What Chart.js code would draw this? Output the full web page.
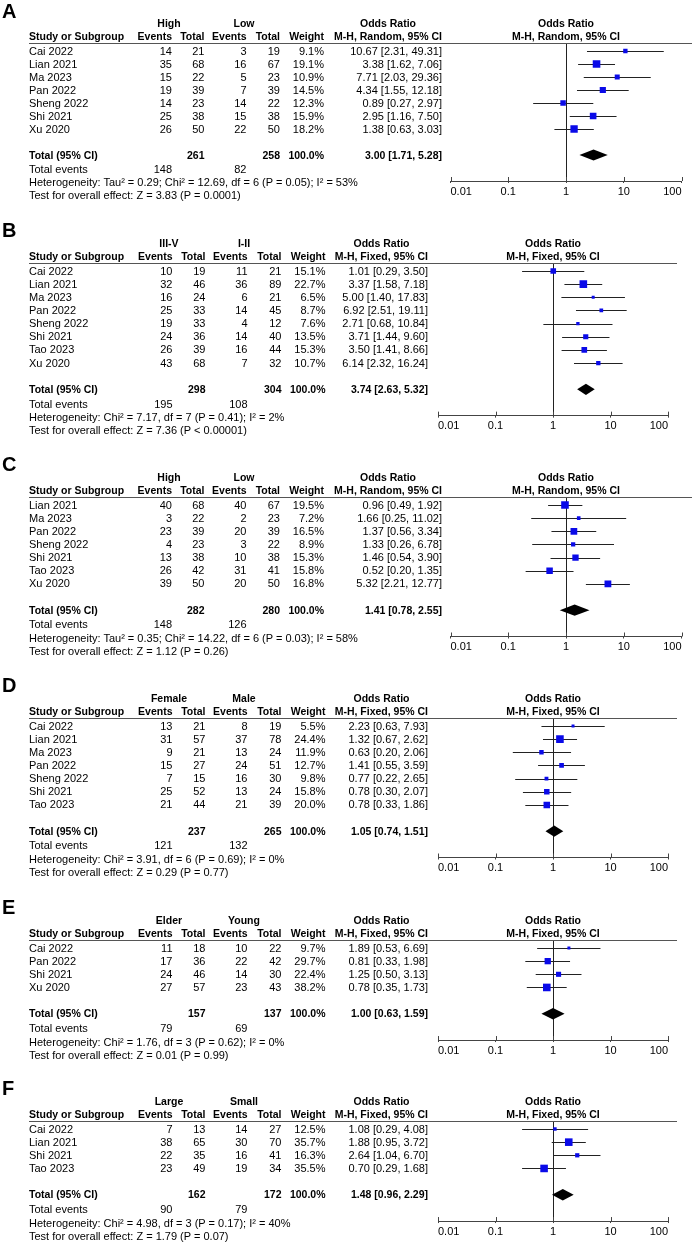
<!DOCTYPE html>
<html>
<head>
<meta charset="utf-8">
<script src="https://cdn.jsdelivr.net/npm/chart.js@4.4.1/dist/chart.umd.min.js"></script>
<style>
body { margin: 0; background: #fff; }
#page { position: relative; width: 692px; height: 1242px; overflow: hidden; font-family: "Liberation Sans", Arial, sans-serif; font-size: 11px; color: #000; }
#page canvas { position: absolute; left: 0; }
.t { position: absolute; white-space: nowrap; line-height: 13px; height: 13px; z-index: 2; }
.b { font-weight: bold; font-size: 10.5px; }
.r { transform: translateX(-100%); }
.c { transform: translateX(-50%); }
.lbl { font-size: 20px; font-weight: bold; line-height: 20px; height: 20px; }
.rule { position: absolute; height: 1px; background: #555; z-index: 2; }
</style>
</head>
<body>
<div id="page"></div>
<script>
const fontFamily = '"Liberation Sans", Arial, sans-serif'

// A: High vs Low, M-H random
const studiesA = ["Cai 2022", "Lian 2021", "Ma 2023", "Pan 2022", "Sheng 2022", "Shi 2021", "Xu 2020"]
const events1A = [14, 35, 15, 19, 14, 25, 26]
const totals1A = [21, 68, 22, 39, 23, 38, 50]
const events2A = [3, 16, 5, 7, 14, 15, 22]
const totals2A = [19, 67, 23, 39, 22, 38, 50]
const weightA = [9.1, 19.1, 10.9, 14.5, 12.3, 15.9, 18.2]
const orA = [10.67, 3.38, 7.71, 4.34, 0.89, 2.95, 1.38]
const lowA = [2.31, 1.62, 2.03, 1.55, 0.27, 1.16, 0.63]
const highA = [49.31, 7.06, 29.36, 12.18, 2.97, 7.50, 3.03]
const pooledA = [3.00, 1.71, 5.28]
const sumsA = [261, 258, 148, 82]
const hetA = "Heterogeneity: Tau² = 0.29; Chi² = 12.69, df = 6 (P = 0.05); I² = 53%"
const testA = "Test for overall effect: Z = 3.83 (P = 0.0001)"

// B: III-V vs I-II, M-H fixed
const studiesB = ["Cai 2022", "Lian 2021", "Ma 2023", "Pan 2022", "Sheng 2022", "Shi 2021", "Tao 2023", "Xu 2020"]
const events1B = [10, 32, 16, 25, 19, 24, 26, 43]
const totals1B = [19, 46, 24, 33, 33, 36, 39, 68]
const events2B = [11, 36, 6, 14, 4, 14, 16, 7]
const totals2B = [21, 89, 21, 45, 12, 40, 44, 32]
const weightB = [15.1, 22.7, 6.5, 8.7, 7.6, 13.5, 15.3, 10.7]
const orB = [1.01, 3.37, 5.00, 6.92, 2.71, 3.71, 3.50, 6.14]
const lowB = [0.29, 1.58, 1.40, 2.51, 0.68, 1.44, 1.41, 2.32]
const highB = [3.50, 7.18, 17.83, 19.11, 10.84, 9.60, 8.66, 16.24]
const pooledB = [3.74, 2.63, 5.32]
const sumsB = [298, 304, 195, 108]
const hetB = "Heterogeneity: Chi² = 7.17, df = 7 (P = 0.41); I² = 2%"
const testB = "Test for overall effect: Z = 7.36 (P < 0.00001)"

// C: High vs Low, M-H random
const studiesC = ["Lian 2021", "Ma 2023", "Pan 2022", "Sheng 2022", "Shi 2021", "Tao 2023", "Xu 2020"]
const events1C = [40, 3, 23, 4, 13, 26, 39]
const totals1C = [68, 22, 39, 23, 38, 42, 50]
const events2C = [40, 2, 20, 3, 10, 31, 20]
const totals2C = [67, 23, 39, 22, 38, 41, 50]
const weightC = [19.5, 7.2, 16.5, 8.9, 15.3, 15.8, 16.8]
const orC = [0.96, 1.66, 1.37, 1.33, 1.46, 0.52, 5.32]
const lowC = [0.49, 0.25, 0.56, 0.26, 0.54, 0.20, 2.21]
const highC = [1.92, 11.02, 3.34, 6.78, 3.90, 1.35, 12.77]
const pooledC = [1.41, 0.78, 2.55]
const sumsC = [282, 280, 148, 126]
const hetC = "Heterogeneity: Tau² = 0.35; Chi² = 14.22, df = 6 (P = 0.03); I² = 58%"
const testC = "Test for overall effect: Z = 1.12 (P = 0.26)"

// D: Female vs Male, M-H fixed
const studiesD = ["Cai 2022", "Lian 2021", "Ma 2023", "Pan 2022", "Sheng 2022", "Shi 2021", "Tao 2023"]
const events1D = [13, 31, 9, 15, 7, 25, 21]
const totals1D = [21, 57, 21, 27, 15, 52, 44]
const events2D = [8, 37, 13, 24, 16, 13, 21]
const totals2D = [19, 78, 24, 51, 30, 24, 39]
const weightD = [5.5, 24.4, 11.9, 12.7, 9.8, 15.8, 20.0]
const orD = [2.23, 1.32, 0.63, 1.41, 0.77, 0.78, 0.78]
const lowD = [0.63, 0.67, 0.20, 0.55, 0.22, 0.30, 0.33]
const highD = [7.93, 2.62, 2.06, 3.59, 2.65, 2.07, 1.86]
const pooledD = [1.05, 0.74, 1.51]
const sumsD = [237, 265, 121, 132]
const hetD = "Heterogeneity: Chi² = 3.91, df = 6 (P = 0.69); I² = 0%"
const testD = "Test for overall effect: Z = 0.29 (P = 0.77)"

// E: Elder vs Young, M-H fixed
const studiesE = ["Cai 2022", "Pan 2022", "Shi 2021", "Xu 2020"]
const events1E = [11, 17, 24, 27]
const totals1E = [18, 36, 46, 57]
const events2E = [10, 22, 14, 23]
const totals2E = [22, 42, 30, 43]
const weightE = [9.7, 29.7, 22.4, 38.2]
const orE = [1.89, 0.81, 1.25, 0.78]
const lowE = [0.53, 0.33, 0.50, 0.35]
const highE = [6.69, 1.98, 3.13, 1.73]
const pooledE = [1.00, 0.63, 1.59]
const sumsE = [157, 137, 79, 69]
const hetE = "Heterogeneity: Chi² = 1.76, df = 3 (P = 0.62); I² = 0%"
const testE = "Test for overall effect: Z = 0.01 (P = 0.99)"

// F: Large vs Small, M-H fixed
const studiesF = ["Cai 2022", "Lian 2021", "Shi 2021", "Tao 2023"]
const events1F = [7, 38, 22, 23]
const totals1F = [13, 65, 35, 49]
const events2F = [14, 30, 16, 19]
const totals2F = [27, 70, 41, 34]
const weightF = [12.5, 35.7, 16.3, 35.5]
const orF = [1.08, 1.88, 2.64, 0.70]
const lowF = [0.29, 0.95, 1.04, 0.29]
const highF = [4.08, 3.72, 6.70, 1.68]
const pooledF = [1.48, 0.96, 2.29]
const sumsF = [162, 172, 90, 79]
const hetF = "Heterogeneity: Chi² = 4.98, df = 3 (P = 0.17); I² = 40%"
const testF = "Test for overall effect: Z = 1.79 (P = 0.07)"

const tickValues = [0.01, 0.1, 1, 10, 100]
const tickLabels = ["0.01", "0.1", "1", "10", "100"]

const panels = [
    { id: "A", groups: ["High", "Low"], method: "Random", studies: studiesA, ev1: events1A, n1: totals1A, ev2: events2A, n2: totals2A, weight: weightA, or: orA, lo: lowA, hi: highA, pooled: pooledA, sums: sumsA, het: hetA, test: testA, row0: 51, rowH: 13 },
    { id: "B", groups: ["III-V", "I-II"], method: "Fixed", studies: studiesB, ev1: events1B, n1: totals1B, ev2: events2B, n2: totals2B, weight: weightB, or: orB, lo: lowB, hi: highB, pooled: pooledB, sums: sumsB, het: hetB, test: testB, row0: 271, rowH: 13.15 },
    { id: "C", groups: ["High", "Low"], method: "Random", studies: studiesC, ev1: events1C, n1: totals1C, ev2: events2C, n2: totals2C, weight: weightC, or: orC, lo: lowC, hi: highC, pooled: pooledC, sums: sumsC, het: hetC, test: testC, row0: 505, rowH: 13.15 },
    { id: "D", groups: ["Female", "Male"], method: "Fixed", studies: studiesD, ev1: events1D, n1: totals1D, ev2: events2D, n2: totals2D, weight: weightD, or: orD, lo: lowD, hi: highD, pooled: pooledD, sums: sumsD, het: hetD, test: testD, row0: 726, rowH: 13.15 },
    { id: "E", groups: ["Elder", "Young"], method: "Fixed", studies: studiesE, ev1: events1E, n1: totals1E, ev2: events2E, n2: totals2E, weight: weightE, or: orE, lo: lowE, hi: highE, pooled: pooledE, sums: sumsE, het: hetE, test: testE, row0: 948, rowH: 13.15 },
    { id: "F", groups: ["Large", "Small"], method: "Fixed", studies: studiesF, ev1: events1F, n1: totals1F, ev2: events2F, n2: totals2F, weight: weightF, or: orF, lo: lowF, hi: highF, pooled: pooledF, sums: sumsF, het: hetF, test: testF, row0: 1129, rowH: 13.15 }
]

// column right edges: events1, total1, events2, total2, weight, odds ratio
const layouts = {
    Random: { cols: [172, 204.5, 246.5, 280, 324, 442], groupX: [169, 244], plotX: [450.5, 681.5], ruleEnd: 692 },
    Fixed: { cols: [172.5, 205.5, 247.5, 281.5, 325.5, 428], groupX: [169, 244], plotX: [438, 668], ruleEnd: 676.5 }
}

const page = document.getElementById("page")

function addText(text, x, y, cls, half = 6.5) {
    const el = document.createElement("div")
    el.className = "t " + (cls || "")
    el.textContent = text
    el.style.left = x + "px"
    el.style.top = (y - half) + "px"
    page.appendChild(el)
    return el
}

function ciText(v, lo, hi) {
    return v.toFixed(2) + " [" + lo.toFixed(2) + ", " + hi.toFixed(2) + "]"
}

function forestPlugin(p) {
    const line = (ctx, x0, y0, x1, y1) => {
        ctx.beginPath()
        ctx.moveTo(x0, y0)
        ctx.lineTo(x1, y1)
        ctx.stroke()
    }
    return {
        id: "forest" + p.id,
        beforeDatasetsDraw(chart) {
            const { ctx, chartArea, scales: { x, y } } = chart
            ctx.save()
            ctx.lineWidth = 1
            ctx.strokeStyle = "#222"
            const x1 = Math.round(x.getPixelForValue(1)) + 0.5
            line(ctx, x1, chartArea.top, x1, chartArea.bottom)
            p.lo.forEach((lo, i) => {
                const yy = Math.round(y.getPixelForValue(i)) + 0.5
                line(ctx, x.getPixelForValue(lo), yy, x.getPixelForValue(p.hi[i]), yy)
            })
            ctx.strokeStyle = "#444"
            for (const v of tickValues) {
                const xx = Math.round(x.getPixelForValue(v)) + 0.5
                line(ctx, xx, chartArea.bottom - 4, xx, chartArea.bottom)
            }
            ctx.restore()
        },
        afterDatasetsDraw(chart) {
            const { ctx, scales: { x, y } } = chart
            const row = p.studies.length + 1
            const [est, lo, hi] = p.pooled
            ctx.save()
            ctx.fillStyle = "#000"
            ctx.beginPath()
            ctx.moveTo(x.getPixelForValue(lo), y.getPixelForValue(row))
            ctx.lineTo(x.getPixelForValue(est), y.getPixelForValue(row - 0.43))
            ctx.lineTo(x.getPixelForValue(hi), y.getPixelForValue(row))
            ctx.lineTo(x.getPixelForValue(est), y.getPixelForValue(row + 0.43))
            ctx.closePath()
            ctx.fill()
            ctx.restore()
        }
    }
}

function drawPanel(p) {
    const lay = layouts[p.method]
    const n = p.studies.length
    const top = Math.floor(p.row0 - 3.9 * p.rowH)
    const areaTop = p.row0 - 0.6 * p.rowH
    const areaBottom = p.row0 + (n + 3) * p.rowH
    const axisH = 16
    const height = Math.ceil(areaBottom - top + axisH + 2)

    const canvas = document.createElement("canvas")
    canvas.width = 692
    canvas.height = height
    canvas.style.top = top + "px"
    page.appendChild(canvas)

    const maxW = Math.max(...p.weight)
    const chart = new Chart(canvas, {
        type: "scatter",
        data: {
            datasets: [{
                data: p.or.map((v, i) => ({ x: v, y: i })),
                pointStyle: "rect",
                pointRadius: p.weight.map((w) => Math.max(3, 7.6 * Math.pow(w / maxW, 0.75)) / Math.SQRT2),
                backgroundColor: "#0a0ae8",
                borderWidth: 0
            }]
        },
        options: {
            responsive: false,
            animation: false,
            events: [],
            layout: {
                padding: {
                    left: lay.plotX[0],
                    right: 692 - lay.plotX[1],
                    top: areaTop - top,
                    bottom: height - (areaBottom - top) - axisH
                }
            },
            plugins: { legend: { display: false }, tooltip: { enabled: false } },
            scales: {
                x: {
                    type: "logarithmic",
                    min: 0.01,
                    max: 100,
                    afterBuildTicks: (s) => { s.ticks = tickValues.map((v) => ({ value: v })) },
                    afterFit: (s) => { s.height = axisH },
                    ticks: {
                        align: "inner",
                        padding: 2,
                        color: "#000",
                        font: { family: fontFamily, size: 11 },
                        callback: (v, i) => tickLabels[i]
                    },
                    grid: { drawOnChartArea: false, tickLength: 2, color: "#444" },
                    border: { color: "#444", width: 1 }
                },
                y: { type: "linear", display: false, reverse: true, min: -0.6, max: n + 3 }
            }
        },
        plugins: [forestPlugin(p)]
    })

    const yAt = (v) => top + chart.scales.y.getPixelForValue(v)
    const xOne = chart.scales.x.getPixelForValue(1)
    const c = lay.cols

    addText(p.id, 2, yAt(-3.1), "lbl", 10)
    addText(p.groups[0], lay.groupX[0], yAt(-2.1), "b c")
    addText(p.groups[1], lay.groupX[1], yAt(-2.1), "b c")
    addText("Study or Subgroup", 29, yAt(-1.1), "b")
    addText("Events", c[0], yAt(-1.1), "b r")
    addText("Total", c[1], yAt(-1.1), "b r")
    addText("Events", c[2], yAt(-1.1), "b r")
    addText("Total", c[3], yAt(-1.1), "b r")
    addText("Weight", c[4], yAt(-1.1), "b r")
    const mh = addText("M-H, " + p.method + ", 95% CI", c[5], yAt(-1.1), "b r")
    addText("Odds Ratio", c[5] - mh.offsetWidth / 2, yAt(-2.1), "b c")
    addText("Odds Ratio", xOne, yAt(-2.1), "b c")
    addText("M-H, " + p.method + ", 95% CI", xOne, yAt(-1.1), "b c")

    const rule = document.createElement("div")
    rule.className = "rule"
    rule.style.left = "29px"
    rule.style.width = (lay.ruleEnd - 29) + "px"
    rule.style.top = Math.round(yAt(-0.6)) + "px"
    page.appendChild(rule)

    p.studies.forEach((name, i) => {
        const y = yAt(i)
        addText(name, 29, y)
        addText(String(p.ev1[i]), c[0], y, "r")
        addText(String(p.n1[i]), c[1], y, "r")
        addText(String(p.ev2[i]), c[2], y, "r")
        addText(String(p.n2[i]), c[3], y, "r")
        addText(p.weight[i].toFixed(1) + "%", c[4], y, "r")
        addText(ciText(p.or[i], p.lo[i], p.hi[i]), c[5], y, "r")
    })

    const yt = yAt(n + 1)
    addText("Total (95% CI)", 29, yt, "b")
    addText(String(p.sums[0]), c[1], yt, "b r")
    addText(String(p.sums[1]), c[3], yt, "b r")
    addText("100.0%", c[4], yt, "b r")
    addText(ciText(p.pooled[0], p.pooled[1], p.pooled[2]), c[5], yt, "b r")

    const ye = yAt(n + 2.12)
    addText("Total events", 29, ye)
    addText(String(p.sums[2]), c[0], ye, "r")
    addText(String(p.sums[3]), c[2], ye, "r")
    addText(p.het, 29, yAt(n + 3.15))
    addText(p.test, 29, yAt(n + 4.15))
}

panels.forEach(drawPanel)
</script>
</body>
</html>
